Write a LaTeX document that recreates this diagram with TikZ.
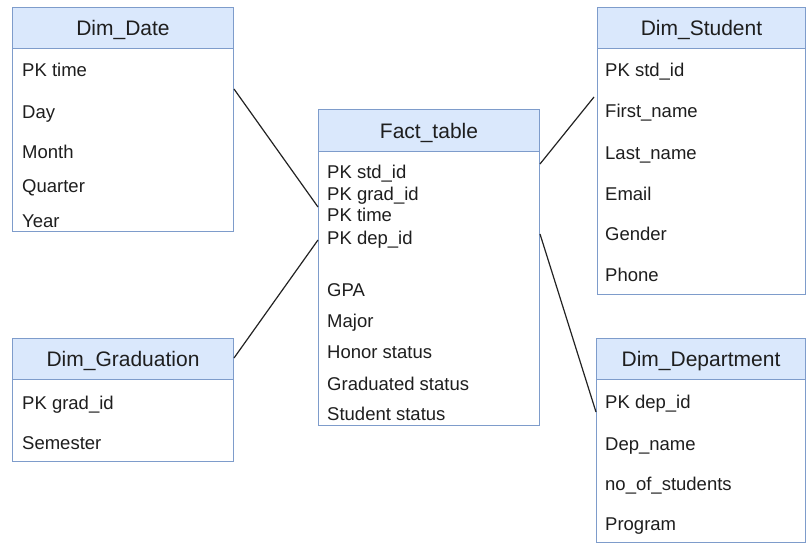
\documentclass[tikz,border=0pt]{standalone}
\usepackage{fontspec}
\setmainfont{Liberation Sans}
\usetikzlibrary{calc}
\definecolor{hdrfill}{HTML}{DAE8FC}
\definecolor{hdrline}{HTML}{7E9CCB}
\definecolor{txt}{HTML}{1E1E1E}
\definecolor{linkc}{HTML}{222222}
\begin{document}
\begin{tikzpicture}[x=1pt,y=-1pt,
  tbl/.style={draw=hdrline, line width=1pt, fill=white, anchor=north west, inner sep=0pt},
  hdr/.style={draw=hdrline, line width=1pt, fill=hdrfill, anchor=north west, inner sep=0pt,
    text height=15pt, text depth=0pt, text=txt, font=\fontsize{21}{24}\selectfont},
  fld/.style={anchor=base west, inner sep=0pt, text=txt, font=\fontsize{18.5}{22}\selectfont},
  link/.style={draw=linkc, line width=1.2pt}]
\useasboundingbox (0,0) rectangle (807,546);

% table bodies
\node[tbl, minimum width=221pt, minimum height=224pt] (date) at (12,7) {};
\node[tbl, minimum width=221pt, minimum height=316pt] (fact) at (318,109) {};
\node[tbl, minimum width=208pt, minimum height=287pt] (student) at (597,7) {};
\node[tbl, minimum width=221pt, minimum height=123pt] (grad) at (12,338) {};
\node[tbl, minimum width=209pt, minimum height=204pt] (dept) at (596,338) {};

% table headers
\node[hdr, minimum width=221pt, minimum height=41pt] (dateH) at (date.north west) {Dim\_Date};
\node[hdr, minimum width=221pt, minimum height=42pt] (factH) at (fact.north west) {Fact\_table};
\node[hdr, minimum width=208pt, minimum height=41pt] (studentH) at (student.north west) {Dim\_Student};
\node[hdr, minimum width=221pt, minimum height=41pt] (gradH) at (grad.north west) {Dim\_Graduation};
\node[hdr, minimum width=209pt, minimum height=41pt] (deptH) at (dept.north west) {Dim\_Department};

% fields
\foreach \y/\t [count=\i] in {76/PK time, 118/Day, 158/Month, 192/Quarter, 227/Year}
  \node[fld] (date-\i) at (22,\y) {\t};
\foreach \y/\t [count=\i] in {178/PK std\_id, 200/PK grad\_id, 221/PK time, 244/PK dep\_id,
    296/GPA, 327/Major, 358/Honor status, 390/Graduated status, 420/Student status}
  \node[fld] (fact-\i) at (327,\y) {\t};
\foreach \y/\t [count=\i] in {76/PK std\_id, 117/First\_name, 159/Last\_name, 200/Email,
    240/Gender, 281/Phone}
  \node[fld] (student-\i) at (605,\y) {\t};
\foreach \y/\t [count=\i] in {409/PK grad\_id, 449/Semester}
  \node[fld] (grad-\i) at (22,\y) {\t};
\foreach \y/\t [count=\i] in {408/PK dep\_id, 450/Dep\_name, 490/no\_of\_students, 530/Program}
  \node[fld] (dept-\i) at (605,\y) {\t};

% relationships
\draw[link] ($(date.north east)+(0,82)$) -- ($(fact.north west)+(0,98)$);
\draw[link] ($(grad.north east)+(0,20)$) -- ($(fact.north west)+(0,131)$);
\draw[link] ($(fact.north east)+(0,55)$) -- ($(student.north west)+(-3,90)$);
\draw[link] ($(fact.north east)+(0,125)$) -- ($(dept.north west)+(0,74)$);
\end{tikzpicture}
\end{document}
